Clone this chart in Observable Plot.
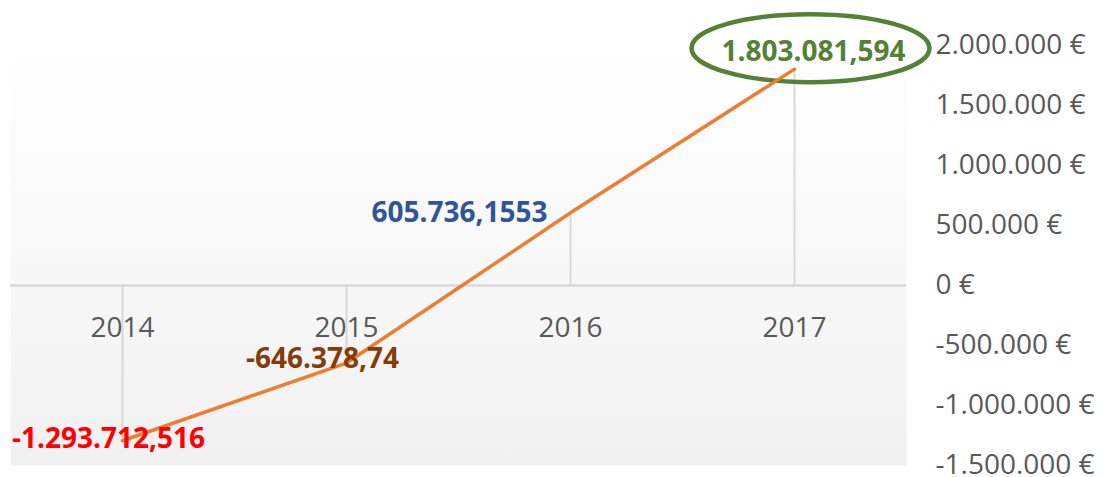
<!DOCTYPE html>
<html>
<head>
<meta charset="utf-8">
<script src="https://cdn.jsdelivr.net/npm/d3@7"></script>
<script src="https://cdn.jsdelivr.net/npm/@observablehq/plot@0.6"></script>
<style>
  html, body { margin: 0; padding: 0; background: #fff; }
  #chart svg { display: block; }
</style>
</head>
<body>
<div id="chart"></div>
<script>
const years = ["2014", "2015", "2016", "2017"];
const values = [-1293712.516, -646378.74, 605736.1553, 1803081.594];
const labelColors = ["#FF0000", "#843C0C", "#2F5597", "#548235"];
const labelDx = [-14, -24, -23, 19];
const labelDy = [-2, -4, 0, -17];
const labelAnchor = ["middle", "middle", "end", "middle"];
const yTicks = [-1500000, -1000000, -500000, 0, 500000, 1000000, 1500000, 2000000];
const highlightYear = "2017";

const locale = d3.formatLocale({decimal: ",", thousands: ".", grouping: [3], currency: ["", " €"], minus: "-"});
const fmtCur = locale.format("$,");
const fmtNum = locale.format(",");

const data = years.map((year, i) => ({
  year, value: values[i], color: labelColors[i], dx: labelDx[i], dy: labelDy[i], anchor: labelAnchor[i]
}));
const highlight = data.filter(d => d.year === highlightYear);

const ellipseSymbol = {
  draw(context) {
    const rx = 119, ry = 34, k = 0.5523;
    context.moveTo(-rx, 0);
    context.bezierCurveTo(-rx, -ry * k, -rx * k, -ry, 0, -ry);
    context.bezierCurveTo(rx * k, -ry, rx, -ry * k, rx, 0);
    context.bezierCurveTo(rx, ry * k, rx * k, ry, 0, ry);
    context.bezierCurveTo(-rx * k, ry, -rx, ry * k, -rx, 0);
    context.closePath();
  }
};

const defs = () => {
  const d = d3.create("svg:defs");
  const g = d.append("linearGradient").attr("id", "bgGrad").attr("x1", 0).attr("y1", 0).attr("x2", 0).attr("y2", 1);
  g.append("stop").attr("offset", "0%").attr("stop-color", "#ffffff");
  g.append("stop").attr("offset", "100%").attr("stop-color", "#f1f1f1");
  return d.node();
};

const chart = Plot.plot({
  width: 1104,
  height: 477,
  marginLeft: 10,
  marginRight: 198,
  marginTop: 45,
  marginBottom: 12,
  style: {fontFamily: "'Open Sans', sans-serif", fontSize: "28px", color: "#595959", background: "transparent"},
  x: {type: "point", domain: years, padding: 0.5, axis: null},
  y: {domain: [-1500000, 2000000], ticks: yTicks, axis: null, label: null},
  marks: [
    defs,
    Plot.frame({fill: "url(#bgGrad)", stroke: "none"}),
    Plot.ruleY([0], {stroke: "#d9d9d9", strokeWidth: 2.5}),
    Plot.ruleX(data, {x: "year", y1: 0, y2: "value", stroke: "#d9d9d9", strokeWidth: 2}),
    Plot.text(years, {x: d => d, y: () => 0, dy: 43, fill: "#595959", fontSize: 28}),
    Plot.axisY(yTicks, {anchor: "right", label: null, tickSize: 0, tickPadding: 29, textAnchor: "start", tickFormat: fmtCur, fill: "#595959", fontSize: 28}),
    Plot.dot(highlight, {x: "year", y: "value", symbol: ellipseSymbol, fill: "none", fillOpacity: 0, stroke: "#548235", strokeWidth: 4.5, dx: 16, dy: -21}),
    Plot.line(data, {x: "year", y: "value", stroke: "#ED7D31", strokeWidth: 3.5, curve: "linear", strokeLinecap: "round", strokeLinejoin: "round"}),
    ...data.map(d => Plot.text([d], {x: "year", y: "value", text: v => fmtNum(v.value), fill: d.color, fontWeight: "bold", fontSize: 28, dx: d.dx, dy: d.dy, textAnchor: d.anchor}))
  ]
});
document.getElementById("chart").appendChild(chart);
</script>
</body>
</html>
